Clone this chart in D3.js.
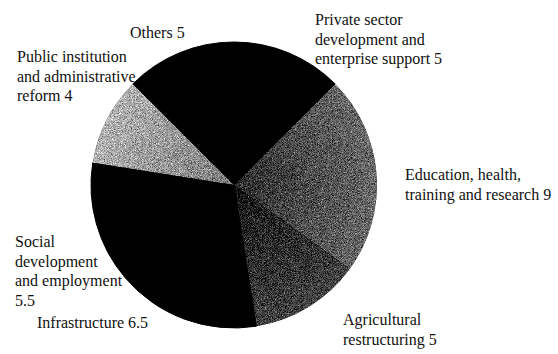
<!DOCTYPE html>
<html>
<head>
<meta charset="utf-8">
<script src="https://cdn.jsdelivr.net/npm/d3@7/dist/d3.min.js"></script>
<style>
  html, body { margin: 0; padding: 0; background: #fff; }
  svg { display: block; }
  text { font-family: "Liberation Serif", "Times New Roman", serif; font-size: 16px; fill: #111; }
</style>
</head>
<body>
<svg id="chart" width="558" height="354"></svg>
<script>
// Allocation by sector (share of total programme funds)
const categories = [
  "Others",
  "Private sector development and enterprise support",
  "Education, health, training and research",
  "Agricultural restructuring",
  "Infrastructure",
  "Social development and employment",
  "Public institution and administrative reform"
];
const values = [5, 5, 9, 5, 6.5, 5.5, 4];

// Label text, broken into lines; the value is appended to the last line
const labelLines = [
  ["Others"],
  ["Private sector", "development and", "enterprise support"],
  ["Education, health,", "training and research"],
  ["Agricultural", "restructuring"],
  ["Infrastructure"],
  ["Social", "development", "and employment", ""],
  ["Public institution", "and administrative", "reform"]
];

// Slice shading: [inner tone, outer tone, grainy]
const shades = [
  ["#000", "#000", false],
  ["#000", "#000", false],
  ["#2e2e2e", "#6a6a6a", true],
  ["#141414", "#444444", true],
  ["#000", "#000", false],
  ["#000", "#000", false],
  ["#7c7c7c", "#b4b4b4", true]
];

// Label anchor points (left x, first baseline y)
const labelAnchors = [
  [130, 38], [315, 25], [405, 180], [343, 325], [37, 328], [15, 247], [17, 62]
];
const lineHeight = 19.6;

const svg = d3.select("#chart");
const cx = 234, cy = 185, radius = 143;

const defs = svg.append("defs");

// Fine grain used on the tinted slices
const grain = defs.append("filter")
  .attr("id", "grain")
  .attr("x", 0).attr("y", 0).attr("width", 1).attr("height", 1)
  .attr("color-interpolation-filters", "sRGB");
grain.append("feTurbulence")
  .attr("type", "fractalNoise").attr("baseFrequency", 1.3)
  .attr("numOctaves", 2).attr("seed", 7).attr("result", "noise");
grain.append("feColorMatrix")
  .attr("in", "noise").attr("type", "matrix")
  .attr("values", "0.33 0.33 0.33 0 0  0.33 0.33 0.33 0 0  0.33 0.33 0.33 0 0  0 0 0 0 1")
  .attr("result", "mono");
grain.append("feComposite")
  .attr("in", "SourceGraphic").attr("in2", "mono")
  .attr("operator", "arithmetic")
  .attr("k1", 0).attr("k2", 1).attr("k3", 1.8).attr("k4", -0.9)
  .attr("result", "mixed");
grain.append("feComposite")
  .attr("in", "mixed").attr("in2", "SourceAlpha").attr("operator", "in");

// Radial tone for each slice, centred on the pie's own origin
shades.forEach((s, i) => {
  const g = defs.append("radialGradient")
    .attr("id", "shade" + i)
    .attr("gradientUnits", "userSpaceOnUse")
    .attr("cx", 0).attr("cy", 0).attr("r", radius);
  g.append("stop").attr("offset", "0%").attr("stop-color", s[0]);
  g.append("stop").attr("offset", "100%").attr("stop-color", s[1]);
});

const pie = d3.pie()
  .sort(null)
  .value(d => d)
  .startAngle(-Math.PI / 4)
  .endAngle(2 * Math.PI - Math.PI / 4);

const arc = d3.arc().innerRadius(0).outerRadius(radius);

const g = svg.append("g").attr("transform", `translate(${cx},${cy})`);

// Solid backing disc so neighbouring black slices join without seams
g.append("circle").attr("r", radius - 0.5).attr("fill", "#000");

g.selectAll("path.slice")
  .data(pie(values))
  .join("path")
  .attr("class", "slice")
  .attr("d", arc)
  .attr("fill", (d, i) => `url(#shade${i})`)
  .attr("stroke", (d, i) => shades[i][2] ? "none" : "#000")
  .attr("stroke-width", 1)
  .attr("stroke-linejoin", "round")
  .attr("filter", (d, i) => shades[i][2] ? "url(#grain)" : null);

const fmt = v => String(v);

const labels = svg.append("g");
categories.forEach((c, i) => {
  const lines = labelLines[i].slice();
  const last = lines.length - 1;
  lines[last] = lines[last] === "" ? fmt(values[i]) : lines[last] + " " + fmt(values[i]);
  const t = labels.append("text")
    .attr("x", labelAnchors[i][0])
    .attr("y", labelAnchors[i][1]);
  lines.forEach((ln, j) => {
    t.append("tspan")
      .attr("x", labelAnchors[i][0])
      .attr("dy", j === 0 ? 0 : lineHeight)
      .text(ln);
  });
});
</script>
</body>
</html>
